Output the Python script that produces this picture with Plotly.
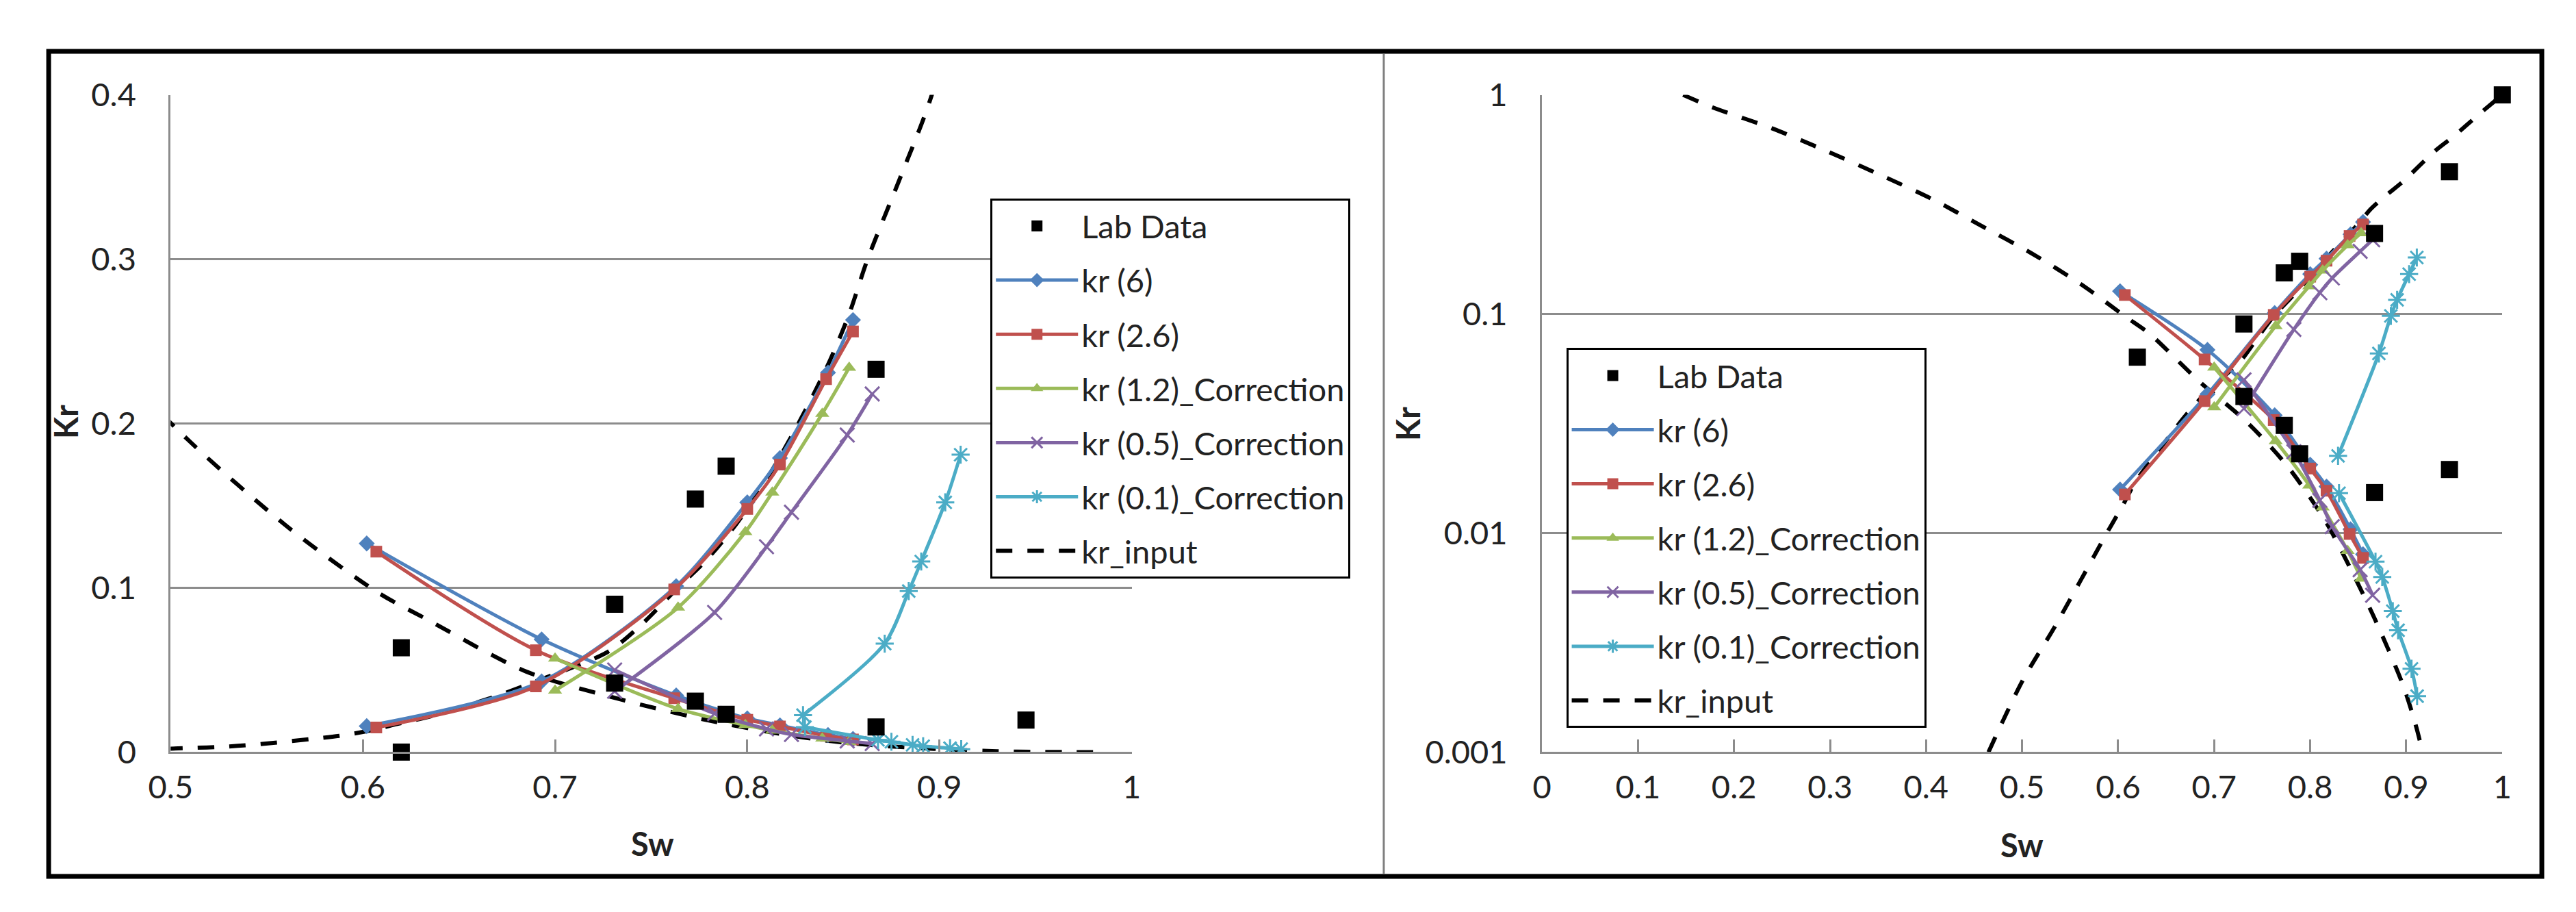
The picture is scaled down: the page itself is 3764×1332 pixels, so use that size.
import plotly.graph_objects as go

# lab measurements
sw_lab = [0.620, 0.620, 0.731, 0.731, 0.773, 0.789, 0.773, 0.789, 0.867, 0.867, 0.945, 0.945, 1.000]
kr_lab = [0.0635, 0.0, 0.090, 0.042, 0.154, 0.174, 0.031, 0.023, 0.233, 0.0153, 0.0195, 0.446, 1.0]

# kr (6)
sw_kr6 = [0.602, 0.693, 0.763, 0.800, 0.817, 0.842, 0.855]
kr6_w = [0.0158, 0.043, 0.101, 0.152, 0.179, 0.231, 0.263]
kr6_o = [0.127, 0.0686, 0.0345, 0.0205, 0.0163, 0.0104, 0.0080]

# kr (2.6)
sw_kr26 = [0.607, 0.690, 0.762, 0.800, 0.817, 0.841, 0.855]
kr26_w = [0.0150, 0.040, 0.099, 0.148, 0.175, 0.227, 0.256]
kr26_o = [0.122, 0.062, 0.0328, 0.0197, 0.0156, 0.0099, 0.0077]

# kr (1.2)_Correction
sw_kr12 = [0.700, 0.764, 0.799, 0.813, 0.839, 0.853]
kr12_w = [0.0375, 0.088, 0.134, 0.158, 0.206, 0.234]
kr12_o = [0.057, 0.0263, 0.0165, 0.0131, 0.0083, 0.0062]

# kr (0.5)_Correction
sw_kr05 = [0.731, 0.783, 0.810, 0.823, 0.852, 0.865]
kr05_w = [0.037, 0.085, 0.125, 0.146, 0.193, 0.218]
kr05_o = [0.050, 0.0235, 0.0141, 0.0107, 0.0068, 0.0052]

# kr (0.1)_Correction
sw_kr01_w = [0.829, 0.8715, 0.884, 0.8905, 0.903, 0.911]
kr01_w = [0.0225, 0.066, 0.098, 0.116, 0.152, 0.181]
sw_kr01_o = [0.830, 0.868, 0.875, 0.886, 0.8915, 0.9055, 0.9113]
kr01_o = [0.0152, 0.0074, 0.0063, 0.0044, 0.0036, 0.0024, 0.0018]

# kr_input curves
sw_in_w = [0.465, 0.500, 0.535, 0.5877, 0.6045, 0.6179, 0.6358, 0.6693, 0.6916, 0.7274, 0.7453,
           0.763, 0.7788, 0.7944, 0.810, 0.8257, 0.8413, 0.8525, 0.8626, 0.8797, 0.896, 0.929,
           0.950, 0.975, 1.000]
kr_in_w = [0.001, 0.0021, 0.0038, 0.0099, 0.0133, 0.0171, 0.0219, 0.034, 0.0438, 0.061, 0.078,
           0.099, 0.117, 0.139, 0.166, 0.198, 0.234, 0.265, 0.300, 0.350, 0.400, 0.550,
           0.650, 0.810, 1.000]
sw_in_o = [0.147, 0.178, 0.239, 0.294, 0.350, 0.406, 0.458, 0.510, 0.562, 0.608, 0.633, 0.685,
           0.735, 0.777, 0.816, 0.844, 0.869, 0.897, 0.913, 0.930, 0.950, 0.970, 0.983]
kr_in_o = [1.0, 0.876, 0.705, 0.560, 0.436, 0.335, 0.252, 0.189, 0.136, 0.097, 0.081, 0.049,
           0.0318, 0.020, 0.0113, 0.0066, 0.0039, 0.0020, 0.00118, 0.0005, 0.00015, 0.00003, 0.00001]

x_ticks_left = [0.5, 0.6, 0.7, 0.8, 0.9, 1.0]
x_labels_left = ['0.5', '0.6', '0.7', '0.8', '0.9', '1']
y_ticks_left = [0, 0.1, 0.2, 0.3, 0.4]
y_labels_left = ['0', '0.1', '0.2', '0.3', '0.4']
x_ticks_right = [0, 0.1, 0.2, 0.3, 0.4, 0.5, 0.6, 0.7, 0.8, 0.9, 1.0]
x_labels_right = ['0', '0.1', '0.2', '0.3', '0.4', '0.5', '0.6', '0.7', '0.8', '0.9', '1']
y_ticks_right = [0.001, 0.01, 0.1, 1]
y_labels_right = ['0.001', '0.01', '0.1', '1']

W, H = 3764, 1332
FONT = 'Lato'
FS = 47
GRAY = '#8c8c8c'


def px_x(p):
    return p / W


def px_y(p):
    return 1 - p / H


series = [
    ('kr (6)', sw_kr6, kr6_w, sw_kr6, kr6_o, '#4F81BD', 'diamond', 18, 2),
    ('kr (2.6)', sw_kr26, kr26_w, sw_kr26, kr26_o, '#C0504D', 'square', 17, 3),
    ('kr (1.2)_Correction', sw_kr12, kr12_w, sw_kr12, kr12_o, '#9BBB59', 'triangle-up', 18, 4),
    ('kr (0.5)_Correction', sw_kr05, kr05_w, sw_kr05, kr05_o, '#8064A2', 'x-thin', 21, 5),
    ('kr (0.1)_Correction', sw_kr01_w, kr01_w, sw_kr01_o, kr01_o, '#4BACC6', 'asterisk', 22, 6),
]

fig = go.Figure()

for side, xa, ya, leg in [('L', 'x', 'y', 'legend'), ('R', 'x2', 'y2', 'legend2')]:
    # dashed input curves
    for i, (sx, sy) in enumerate([(sw_in_w, kr_in_w), (sw_in_o, kr_in_o)]):
        fig.add_trace(go.Scatter(
            x=sx, y=sy, mode='lines', name='kr_input', xaxis=xa, yaxis=ya, legend=leg,
            legendgroup=side + 'input', legendrank=7, showlegend=(i == 0),
            line=dict(color='black', width=6, dash='24px,22px', shape='spline', smoothing=0.8)))
    for name, sxw, syw, sxo, syo, col, sym, size, rank in series:
        for i, (sx, sy) in enumerate([(sxo, syo), (sxw, syw)]):
            mk = dict(symbol=sym, size=size, color=col)
            if sym in ('x-thin', 'asterisk'):
                mk['line'] = dict(color=col, width=3)
            fig.add_trace(go.Scatter(
                x=sx, y=sy, mode='lines+markers', name=name, xaxis=xa, yaxis=ya, legend=leg,
                legendgroup=side + name, legendrank=rank, showlegend=(i == 0),
                line=dict(color=col, width=5, shape='spline', smoothing=0.8), marker=mk))
    fig.add_trace(go.Scatter(
        x=sw_lab, y=kr_lab, mode='markers', name='Lab Data', xaxis=xa, yaxis=ya, legend=leg,
        legendgroup=side + 'lab', legendrank=1, cliponaxis=False,
        marker=dict(symbol='square', size=25, color='black')))

xaxis_common = dict(showline=True, linecolor=GRAY, linewidth=3, showgrid=False, zeroline=False,
                    ticks='inside', ticklen=18, tickwidth=3, tickcolor=GRAY,
                    tickfont=dict(family=FONT, size=FS, color='#222'), ticklabelstandoff=8)
yaxis_common = dict(showline=True, linecolor=GRAY, linewidth=3, showgrid=True, gridcolor=GRAY,
                    gridwidth=3, zeroline=False, ticks='',
                    tickfont=dict(family=FONT, size=FS, color='#222'), ticklabelstandoff=38)

legend_common = dict(font=dict(family=FONT, size=FS, color='#222'), bgcolor='white',
                     bordercolor='black', borderwidth=3, xanchor='left', yanchor='top',
                     traceorder='grouped', tracegroupgap=15, itemwidth=120)

fig.update_layout(
    width=W, height=H, margin=dict(l=0, r=0, t=0, b=0),
    paper_bgcolor='white', plot_bgcolor='white',
    xaxis=dict(domain=[px_x(211), px_x(1633)], range=[0.5, 1.0], anchor='y',
               tickvals=x_ticks_left, ticktext=x_labels_left, **xaxis_common),
    yaxis=dict(domain=[px_y(1107), px_y(105)], range=[0, 0.4], anchor='x',
               tickvals=y_ticks_left, ticktext=y_labels_left, **yaxis_common),
    xaxis2=dict(domain=[px_x(2240), px_x(3661)], range=[0, 1.0], anchor='y2',
                tickvals=x_ticks_right, ticktext=x_labels_right, **xaxis_common),
    yaxis2=dict(domain=[px_y(1107), px_y(105)], type='log', range=[-3, 0], anchor='x2',
                tickvals=y_ticks_right, ticktext=y_labels_right, **yaxis_common),
    legend=dict(x=px_x(1424), y=px_y(263), **legend_common),
    legend2=dict(x=px_x(2276), y=px_y(491), **legend_common),
    showlegend=True,
)

# axis titles
for txt, x, y, ang in [('Kr', 55, 603, -90), ('Sw', 924, 1246, 0),
                       ('Kr', 2042, 607, -90), ('Sw', 2950, 1249, 0)]:
    fig.add_annotation(text='<b>' + txt + '</b>', x=px_x(x), y=px_y(y), xref='paper', yref='paper',
                       showarrow=False, textangle=ang, xanchor='center', yanchor='middle',
                       font=dict(family=FONT, size=FS, color='#222'))

# outer frame and divider
fig.add_shape(type='rect', xref='paper', yref='paper', x0=px_x(30.5), x1=px_x(3719.5),
              y0=px_y(1296.5), y1=px_y(38.5), line=dict(color='black', width=7))
fig.add_shape(type='line', xref='paper', yref='paper', x0=px_x(2006), x1=px_x(2006),
              y0=px_y(1293), y1=px_y(42), line=dict(color='#808080', width=3))

fig.write_html("out.html")
